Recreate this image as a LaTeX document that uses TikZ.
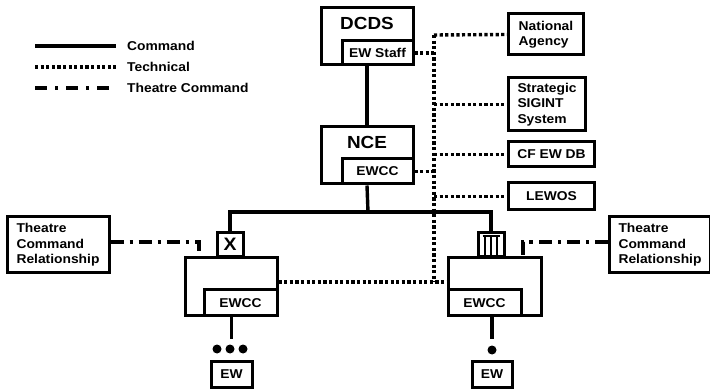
\documentclass[tikz,border=0pt]{standalone}
\usepackage{fontspec}
\setmainfont{Liberation Sans}[FakeStretch=1.08]
\usetikzlibrary{calc}

\begin{document}
\begin{tikzpicture}[x=1pt, y=-1pt, font=\fontsize{12.8}{15.5}\selectfont\bfseries,
  box/.style={draw, line width=3pt, inner sep=0pt},
  txtbox/.style={box, align=left, inner xsep=9pt},
  bigtxt/.style={font=\fontsize{17.5}{20}\selectfont\bfseries},
  cmdline/.style={line width=3.4pt},
  techline/.style={line width=3.4pt, dash pattern=on 3.2pt off 2.4pt},
  theatreline/.style={line width=3.2pt, dash pattern=on 13pt off 6pt on 3.2pt off 6pt}]
\useasboundingbox (0,0) rectangle (710,390);
% legend
\node[anchor=west, inner xsep=0pt] (legcmd) at (127,46) {Command};
\node[anchor=west, inner xsep=0pt] (legtech) at (127,67) {Technical};
\node[anchor=west, inner xsep=0pt] (legtheatre) at (127,88) {Theatre Command};
\coordinate (legcmdL) at (35,46);
\coordinate (legtechL) at (35,67);
\coordinate (legtheatreL) at (35,88);
\draw[cmdline] (legcmdL) -- ([xshift=-11pt]legcmd.west);
\draw[techline] (legtechL) -- ([xshift=-11pt]legtech.west);
\draw[line width=3.2pt, dash pattern=on 12pt off 8pt on 3.2pt off 8pt] (legtheatreL) -- ([xshift=-11pt]legtheatre.west);
% DCDS with EW staff
\node[box, minimum width=92, minimum height=57] (dcds) at (367,36.5) {};
\node[box, anchor=south east, minimum width=71, minimum height=24] (dcdsstaff) at (dcds.south east) {EW Staff};
\node[bigtxt] (dcdslbl) at (367,23) {DCDS};
% NCE with EWCC
\node[box, minimum width=92, minimum height=57] (nce) at (367,155.5) {};
\node[box, anchor=south east, minimum width=71, minimum height=25] (nceewcc) at (nce.south east) {EWCC};
\node[bigtxt] (ncelbl) at (367,142) {NCE};
% technical partners
\node[txtbox, anchor=west, minimum width=75, minimum height=41] (natl) at (507,34.5) {National\\Agency};
\node[txtbox, anchor=west, minimum width=75, minimum height=53] (sigint) at (507,104.5) {Strategic\\SIGINT\\System};
\node[box, anchor=west, minimum width=86, minimum height=25] (cfewdb) at (507,154.5) {CF EW DB};
\node[box, anchor=west, minimum width=86, minimum height=27] (lewos) at (507,196.5) {LEWOS};
% theatre command relationships
\node[txtbox, minimum width=102, minimum height=56] (tcrL) at (58,245) {Theatre\\Command\\Relationship};
\node[txtbox, minimum width=97, minimum height=56] (tcrR) at (660,245) {Theatre\\Command\\Relationship};
% deployed units
\node[box, minimum width=92, minimum height=58] (unitL) at (231,287) {};
\node[box, anchor=south east, minimum width=73, minimum height=26] (unitLcc) at (unitL.south east) {EWCC};
\node[box, anchor=south, minimum width=26, minimum height=24, font=\fontsize{18}{20}\selectfont\bfseries] (xbox) at (230,258) {X};
\node[box, minimum width=93, minimum height=58] (unitR) at (494.5,287) {};
\node[box, anchor=south west, minimum width=73, minimum height=26] (unitRcc) at (unitR.south west) {EWCC};
\node[box, anchor=south, minimum width=26, minimum height=24] (romanbox) at (491,258) {};
\draw[line width=2.6pt] ([xshift=-8.5pt,yshift=-5pt]romanbox.north) -- ([xshift=8.5pt,yshift=-5pt]romanbox.north);
\foreach \dx in {-6,0,6}
  \draw[line width=2.6pt] ([xshift=\dx pt,yshift=-5pt]romanbox.north) -- ([xshift=\dx pt]romanbox.south);
% EW elements
\node[box, minimum width=41, minimum height=26] (ewL) at (231.5,374) {EW};
\node[box, minimum width=40, minimum height=26] (ewR) at (492,374) {EW};
\foreach \x in {217,230,243}
  \fill (\x,349) circle (4.5pt);
\fill (492,350) circle (4.5pt);
% command lines
\coordinate (bus) at (368,212);
\draw[cmdline] (dcds.south) -- (nce.north);
\draw[cmdline] (nce.south) -- (bus);
\draw[cmdline] (xbox.north) |- (bus) -| (romanbox.north);
\draw[cmdline] (ewL.north |- unitL.south) -- ++(0,21);
\draw[cmdline] (ewR.north |- unitR.south) -- ++(0,21);
% technical lines
\coordinate (ttop) at (434,35);
\coordinate (tbot) at (434,282);
\draw[techline] (ttop) -- (tbot);
\draw[techline] (ttop) -- (natl.west);
\draw[techline] (ttop |- sigint.west) -- (sigint.west);
\draw[techline] (ttop |- cfewdb.west) -- (cfewdb.west);
\draw[techline] (ttop |- lewos.west) -- (lewos.west);
\draw[techline] (dcdsstaff.east) -- (dcdsstaff.east -| ttop);
\draw[techline] (nceewcc.east) -- (nceewcc.east -| ttop);
\draw[techline] (unitL.east |- tbot) -- (unitR.west |- tbot);
% theatre command lines
\coordinate (tcL) at (199,242);
\coordinate (tcR) at (523,242);
\draw[theatreline] (tcrL.east |- tcL) -- (tcL) -- (tcL |- unitL.north);
\draw[theatreline] (tcrR.west |- tcR) -- (tcR) -- (tcR |- unitR.north);
\end{tikzpicture}
\end{document}
